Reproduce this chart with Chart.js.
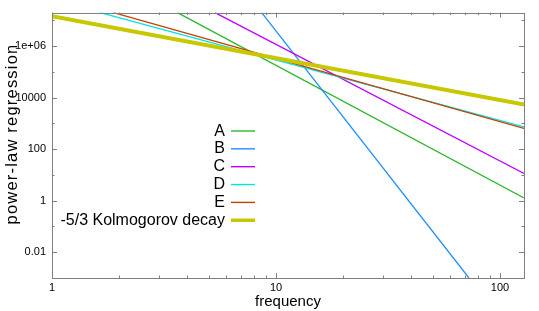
<!DOCTYPE html>
<html>
<head>
<meta charset="utf-8">
<script src="https://cdn.jsdelivr.net/npm/chart.js@4"></script>
<style>
  body { margin: 0; background: #fff; }
  #wrap { width: 539px; height: 311px; }
</style>
</head>
<body>
<div id="wrap"><canvas id="plot" width="539" height="311"></canvas></div>
<script>
// Série de valores (extremos de cada reta de regressão)
const seriesNames = ['A', 'B', 'C', 'D', 'E', '-5/3 Kolmogorov decay'];
const seriesColors = ['#2db82d', '#1e8fff', '#c000ff', '#00e5e5', '#c84000', '#c8c800'];

const freqA = [3.63, 128];  const powA = [2.0e7, 1.27];
const freqB = [8.63, 72.7]; const powB = [2.0e7, 0.001];
const freqC = [5.34, 128];  const powC = [2.0e7, 11.5];
const freqD = [1.64, 128];  const powD = [2.0e7, 736];
const freqE = [1.88, 128];  const powE = [2.0e7, 646];
const freqK = [1, 128];     const powK = [1.45e7, 5360];

// Marcas dos eixos
const xTicks = [1, 2, 3, 4, 5, 6, 7, 8, 9, 10, 20, 30, 40, 50, 60, 70, 80, 90, 100];
const xLabeled = [1, 10, 100];
const yTicks = [1e-3, 1e-2, 1e-1, 1, 10, 100, 1e3, 1e4, 1e5, 1e6, 1e7];
const yLabeled = [1e-2, 1, 100, 1e4, 1e6];
const yTitle = 'power-law regression';

const allFreq = [freqA, freqB, freqC, freqD, freqE, freqK];
const allPow = [powA, powB, powC, powD, powE, powK];

const isIn = (list, v) => list.some(l => Math.abs(l - v) / l < 1e-6);

function yLabel(v) {
    if (v >= 1e6) return '1e+' + String(Math.round(Math.log10(v))).padStart(2, '0');
    return String(v);
}

// Moldura com marcas para dentro nos quatro lados
const framePlugin = {
    id: 'frame',
    afterDatasetsDraw(chart) {
        const { ctx, chartArea: a, scales } = chart;
        ctx.save();
        ctx.strokeStyle = '#808080';
        ctx.lineWidth = 1;
        ctx.beginPath();
        xTicks.forEach(v => {
            const px = Math.round(scales.x.getPixelForValue(v)) + 0.5;
            const len = isIn(xLabeled, v) ? 5 : 2.5;
            ctx.moveTo(px, a.bottom); ctx.lineTo(px, a.bottom - len);
            ctx.moveTo(px, a.top); ctx.lineTo(px, a.top + len);
        });
        yTicks.forEach(v => {
            const py = Math.round(scales.y.getPixelForValue(v)) + 0.5;
            const len = isIn(yLabeled, v) ? 5 : 2.5;
            ctx.moveTo(a.left, py); ctx.lineTo(a.left + len, py);
            ctx.moveTo(a.right, py); ctx.lineTo(a.right - len, py);
        });
        ctx.stroke();
        ctx.strokeRect(Math.round(a.left) + 0.5, Math.round(a.top) + 0.5,
            Math.round(a.right - a.left), Math.round(a.bottom - a.top));
        ctx.restore();
    }
};

// Título vertical desenhado à mão (um pouco acima do centro, como no original)
const yTitlePlugin = {
    id: 'ytitle',
    afterDraw(chart) {
        const ctx = chart.ctx;
        ctx.save();
        ctx.translate(17, 134);
        ctx.rotate(-Math.PI / 2);
        ctx.font = '16.5px "Liberation Sans", Arial, sans-serif';
        if ('letterSpacing' in ctx) ctx.letterSpacing = '1.2px';
        ctx.fillStyle = '#000';
        ctx.textAlign = 'center';
        ctx.textBaseline = 'alphabetic';
        ctx.fillText(yTitle, 0, 0);
        ctx.restore();
    }
};

// Legenda no estilo gnuplot: texto alinhado à direita, amostra da linha à direita
const keyPlugin = {
    id: 'key',
    afterDatasetsDraw(chart) {
        const ctx = chart.ctx;
        const textRight = 225, x0 = 231, x1 = 255, y0 = 131, step = 17.85;
        ctx.save();
        ctx.font = '16px "Liberation Sans", Arial, sans-serif';
        ctx.textAlign = 'right';
        ctx.textBaseline = 'alphabetic';
        chart.data.datasets.forEach((ds, i) => {
            const y = y0 + i * step;
            ctx.fillStyle = '#000';
            ctx.fillText(ds.label, textRight, y + 4.5);
            ctx.strokeStyle = ds.borderColor;
            ctx.lineWidth = ds.borderWidth > 2 ? 3.5 : 1.4;
            ctx.beginPath();
            ctx.moveTo(x0, y);
            ctx.lineTo(x1, y);
            ctx.stroke();
        });
        ctx.restore();
    }
};

const datasets = seriesNames.map((name, i) => ({
    label: name,
    data: allFreq[i].map((f, j) => ({ x: f, y: allPow[i][j] })),
    borderColor: seriesColors[i],
    borderWidth: i === 5 ? 4 : 1.3,
    pointRadius: 0,
    tension: 0,
    fill: false,
    order: seriesNames.length - 1 - i
}));

new Chart(document.getElementById('plot'), {
    type: 'line',
    data: { datasets },
    options: {
        responsive: false,
        devicePixelRatio: 1,
        animation: false,
        layout: { padding: { top: 9, right: 15, left: 0, bottom: 0 } },
        plugins: {
            legend: { display: false },
            tooltip: { enabled: false }
        },
        scales: {
            x: {
                type: 'logarithmic',
                min: 1,
                max: 128,
                grid: { display: false, drawTicks: false },
                border: { display: false },
                afterBuildTicks: s => { s.ticks = xTicks.map(v => ({ value: v })); },
                afterFit: s => { s.height = 33; },
                ticks: {
                    autoSkip: false,
                    maxRotation: 0,
                    padding: 3,
                    color: '#000',
                    font: { family: '"Liberation Sans", Arial, sans-serif', size: 11 },
                    callback: v => isIn(xLabeled, v) ? String(v) : ''
                },
                title: {
                    display: true,
                    text: 'frequency',
                    color: '#000',
                    padding: { top: 0, bottom: 0 },
                    font: { family: '"Liberation Sans", Arial, sans-serif', size: 15 }
                }
            },
            y: {
                type: 'logarithmic',
                min: 1e-3,
                max: 2e7,
                grid: { display: false, drawTicks: false },
                border: { display: false },
                afterBuildTicks: s => { s.ticks = yTicks.map(v => ({ value: v })); },
                afterFit: s => { s.width = 52; },
                ticks: {
                    autoSkip: false,
                    padding: 6,
                    color: '#000',
                    font: { family: '"Liberation Sans", Arial, sans-serif', size: 11 },
                    callback: v => isIn(yLabeled, v) ? yLabel(v) : ''
                }
            }
        }
    },
    plugins: [framePlugin, keyPlugin, yTitlePlugin]
});
</script>
</body>
</html>
